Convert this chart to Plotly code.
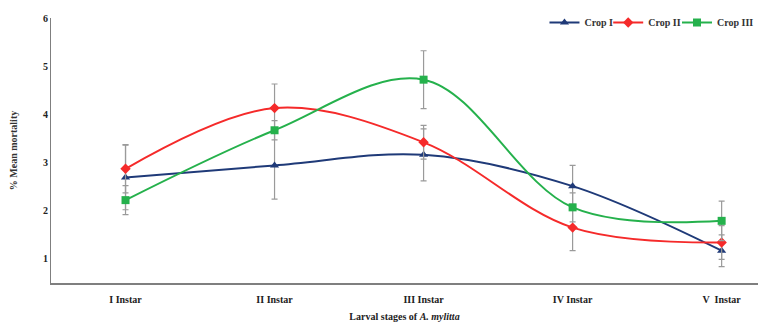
import plotly.graph_objects as go

stages = ["I Instar", "II Instar", "III Instar", "IV Instar", "V  Instar"]
crop1 = [2.69, 2.94, 3.16, 2.51, 1.17]
crop1_err = [0.67, 0.70, 0.54, 0.43, 0.33]
crop2 = [2.87, 4.13, 3.42, 1.65, 1.34]
crop2_err = [0.50, 0.50, 0.35, 0.48, 0.35]
crop3 = [2.22, 3.67, 4.72, 2.07, 1.79]
crop3_err = [0.30, 0.20, 0.60, 0.30, 0.41]

series = [
    ("Crop I", crop1, crop1_err, "#1F3A78", "triangle-up", "legend"),
    ("Crop II", crop2, crop2_err, "#F52A2A", "diamond", "legend2"),
    ("Crop III", crop3, crop3_err, "#25B14C", "square", "legend3"),
]

fig = go.Figure()
for name, vals, errs, col, sym, lg in series:
    fig.add_trace(go.Scatter(
        x=stages, y=vals, name=name, mode="lines+markers", legend=lg,
        showlegend=True,
        line=dict(color=col, width=2, shape="spline", smoothing=1.0),
        marker=dict(symbol=sym, size=8, color=col),
        error_y=dict(type="data", array=errs, visible=True, color="#9a9a9a", thickness=1.2, width=3),
    ))

font_family = "Liberation Serif"
legend_font = dict(family=font_family, size=10, color="#333", weight="bold")


def lg(x):
    return dict(orientation="h", x=x, xanchor="left", y=0.983, yanchor="middle",
                font=legend_font, bgcolor="rgba(0,0,0,0)", itemwidth=30)


fig.update_layout(
    width=751, height=314,
    showlegend=True,
    margin=dict(l=43, r=0, t=9, b=39),
    plot_bgcolor="white", paper_bgcolor="white",
    legend=lg(0.697), legend2=lg(0.787), legend3=lg(0.886),
    xaxis=dict(
        range=[-0.5, 4.244], showline=True, linecolor="#7f7f7f", linewidth=1.5,
        showgrid=False, zeroline=False, ticks="outside", ticklen=6,
        tickcolor="rgba(0,0,0,0)", automargin=False,
        tickfont=dict(family=font_family, size=10, color="#222", weight="bold"),
        title=dict(text="<b>Larval stages of <i>A. mylitta</i></b>",
                   font=dict(family=font_family, size=10, color="#222"), standoff=11),
    ),
    yaxis=dict(
        range=[0.5, 6], showline=True, linecolor="#7f7f7f", linewidth=1.2,
        showgrid=False, zeroline=False, ticks="", dtick=1, tick0=1, automargin=False,
        tickfont=dict(family=font_family, size=10, color="#222", weight="bold"),
        title=dict(text="<b>% Mean mortality</b>",
                   font=dict(family=font_family, size=10, color="#333"), standoff=27),
    ),
)

fig.write_html("out.html")
